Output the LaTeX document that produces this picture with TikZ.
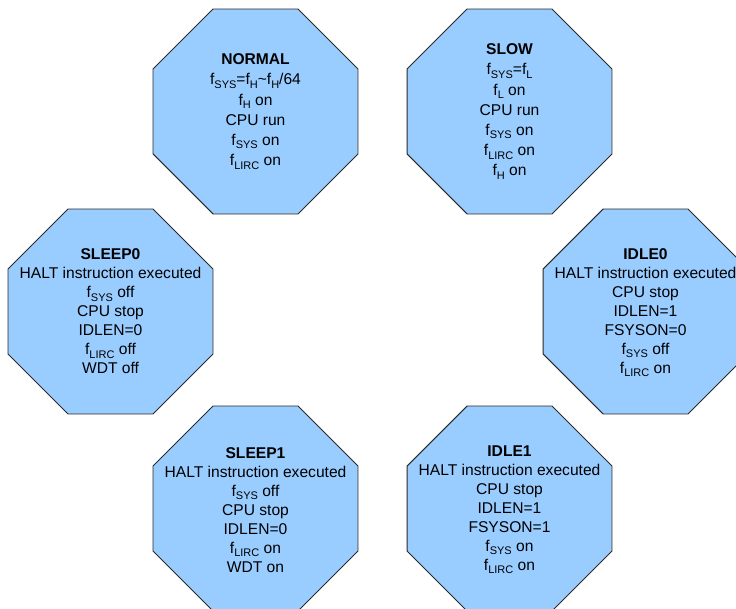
\documentclass[tikz,border=0pt]{standalone}
\usepackage{fontspec}
\setmainfont{Liberation Sans}
\usetikzlibrary{calc}
\definecolor{octfill}{HTML}{99CCFF}
\definecolor{octedge}{HTML}{2A2A2A}
\newcommand{\sbs}[1]{\raisebox{-0.22em}{\fontsize{11}{11}\selectfont #1}}
\newcommand{\octagonat}[1]{%
  \draw[octo] ($(#1)+(22.5:110.9)$)
    \foreach \a in {67.5,112.5,157.5,202.5,247.5,292.5,337.5}{ -- ($(#1)+(\a:110.9)$)} -- cycle;}
\tikzset{
  octo/.style={fill=octfill,draw=octedge,line width=0.9pt,line join=miter},
  txt/.style={align=center,inner sep=0pt,text=black,font=\fontsize{15.6}{20.2}\selectfont},
  txtb/.style={txt,font=\fontsize{15.6}{19}\selectfont}
}
\begin{document}
\begin{tikzpicture}[x=1pt,y=-1pt]
\useasboundingbox (0,0) rectangle (736,609);
\clip (0,0) rectangle (736,609);
\coordinate (cNormal) at (255.5,111.5);
\coordinate (cSlow) at (509.5,111.5);
\coordinate (cSleepA) at (110.5,311.5);
\coordinate (cIdleA) at (645.5,311.5);
\coordinate (cSleepB) at (255.5,508.5);
\coordinate (cIdleB) at (509.5,508.5);
\octagonat{cNormal}
\octagonat{cSlow}
\octagonat{cSleepA}
\octagonat{cIdleA}
\octagonat{cSleepB}
\octagonat{cIdleB}
\node[txt] (normal) at (cNormal) {\textbf{NORMAL}\\f\sbs{SYS}=f\sbs{H}\textasciitilde f\sbs{H}/64\\f\sbs{H} on\\CPU run\\f\sbs{SYS} on\\f\sbs{LIRC} on};
\node[txt] (slow) at (cSlow) {\textbf{SLOW}\\f\sbs{SYS}=f\sbs{L}\\f\sbs{L} on\\CPU run\\f\sbs{SYS} on\\f\sbs{LIRC} on\\f\sbs{H} on};
\node[txtb] (sleep0) at (cSleepA) {\textbf{SLEEP0}\\HALT instruction executed\\f\sbs{SYS} off\\CPU stop\\IDLEN=0\\f\sbs{LIRC} off\\WDT off};
\node[txtb] (idle0) at ($(cIdleA)+(0,1)$) {\textbf{IDLE0}\\HALT instruction executed\\CPU stop\\IDLEN=1\\FSYSON=0\\f\sbs{SYS} off\\f\sbs{LIRC} on};
\node[txtb] (sleep1) at ($(cSleepB)+(0,1.5)$) {\textbf{SLEEP1}\\HALT instruction executed\\f\sbs{SYS} off\\CPU stop\\IDLEN=0\\f\sbs{LIRC} on\\WDT on};
\node[txtb] (idle1) at ($(cIdleB)+(0,1)$) {\textbf{IDLE1}\\HALT instruction executed\\CPU stop\\IDLEN=1\\FSYSON=1\\f\sbs{SYS} on\\f\sbs{LIRC} on};
\end{tikzpicture}
\end{document}
